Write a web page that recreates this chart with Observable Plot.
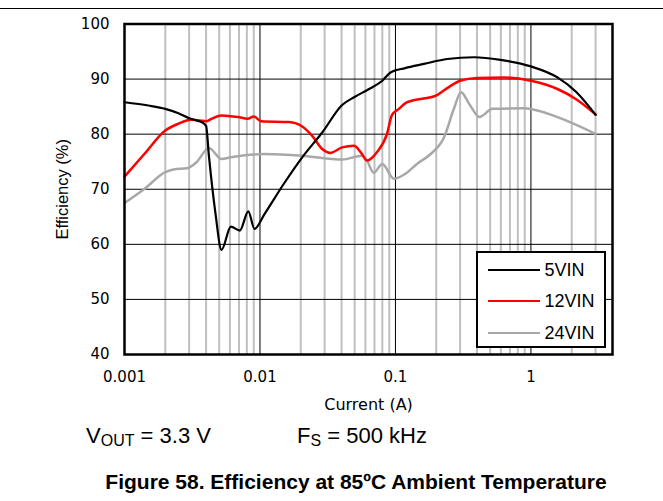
<!DOCTYPE html>
<html>
<head>
<meta charset="utf-8">
<script src="https://cdn.jsdelivr.net/npm/d3@7"></script>
<script src="https://cdn.jsdelivr.net/npm/@observablehq/plot@0.6"></script>
<style>
  html, body { margin: 0; padding: 0; background: #fff; }
  #wrap { position: relative; width: 663px; height: 501px; overflow: hidden; font-family: "Liberation Sans", Arial, sans-serif; color: #000; }
  #chart { position: absolute; left: 0; top: 0; }
  #rule { position: absolute; left: 0; top: 7.5px; width: 663px; height: 1.8px; background: #000; }
  .note { position: absolute; font-size: 22px; line-height: 22px; white-space: nowrap; }
  .note sub { font-size: 16px; vertical-align: -3px; line-height: 0; }
  #caption { position: absolute; left: 0; width: 712px; text-align: center; top: 471px; font-size: 21px; line-height: 21px; font-weight: bold; white-space: nowrap; }
  #legend { position: absolute; left: 475.5px; top: 250.5px; width: 130px; height: 97.5px; box-sizing: border-box; border: 2.2px solid #000; background: #fff; }
  .lg { position: absolute; left: 10px; height: 20px; }
  .lg .sw { position: absolute; left: 0; top: 9px; width: 52px; }
  .lg .tx { position: absolute; left: 57px; top: -1px; font-size: 18px; line-height: 22px; white-space: nowrap; }
</style>
</head>
<body>
<div id="wrap">
  <div id="rule"></div>
  <div id="chart"></div>
  <div id="legend"></div>
  <div class="note" style="left:86px; top:425px;">V<sub>OUT</sub> = 3.3 V</div>
  <div class="note" style="left:297px; top:425px;">F<sub>S</sub> = 500 kHz</div>
  <div id="caption">Figure 58. Efficiency at 85ºC Ambient Temperature</div>
</div>
<script>
// ---- data ----
const seriesNames = ["5VIN", "12VIN", "24VIN"];
const seriesColors = ["#000000", "#ff0000", "#a8a8a8"];

const current5 = [0.001, 0.0015, 0.002, 0.0025, 0.003, 0.0034, 0.0037, 0.004, 0.0042, 0.0047, 0.0052, 0.0061, 0.0071, 0.0082, 0.0091, 0.0108, 0.015, 0.0205, 0.0288, 0.0404, 0.0495, 0.0638, 0.080, 0.092, 0.118, 0.162, 0.241, 0.38, 0.595, 1.0, 1.57, 2.17, 3.0];
const eff5 = [85.8, 85.2, 84.6, 83.8, 82.9, 82.5, 82.2, 81.5, 76.0, 65.5, 59.0, 63.2, 62.5, 66.0, 62.8, 65.5, 71.0, 75.8, 80.3, 85.3, 86.7, 88.2, 89.7, 91.2, 92.0, 92.75, 93.65, 93.96, 93.5, 92.3, 90.3, 87.6, 83.5];

const current12 = [0.001, 0.0014, 0.002, 0.0025, 0.0031, 0.0036, 0.004, 0.0044, 0.0052, 0.0069, 0.0081, 0.009, 0.0102, 0.0164, 0.0205, 0.0243, 0.0288, 0.033, 0.0404, 0.0495, 0.0555, 0.0617, 0.0729, 0.0866, 0.094, 0.106, 0.122, 0.203, 0.246, 0.3, 0.4, 0.63, 1.0, 1.57, 2.17, 3.0];
const eff12 = [72.3, 76.4, 80.65, 81.9, 82.6, 82.5, 82.35, 82.8, 83.4, 83.1, 82.8, 83.2, 82.35, 82.2, 81.4, 79.7, 77.3, 76.6, 77.6, 77.9, 76.7, 75.2, 76.7, 80.05, 83.4, 84.6, 85.8, 87.1, 88.5, 89.7, 90.2, 90.3, 89.7, 88.2, 86.3, 83.6];

const current24 = [0.001, 0.0014, 0.002, 0.0023, 0.0029, 0.0034, 0.0042, 0.0052, 0.0061, 0.0108, 0.0205, 0.0404, 0.057, 0.0617, 0.069, 0.080, 0.0974, 0.118, 0.144, 0.182, 0.228, 0.27, 0.305, 0.35, 0.417, 0.52, 0.89, 1.57, 3.0];
const eff24 = [67.5, 70.05, 73.1, 73.6, 73.8, 74.9, 77.5, 75.5, 75.8, 76.4, 76.1, 75.4, 76.1, 75.2, 73.0, 74.6, 71.9, 72.8, 74.6, 76.4, 79.4, 84.6, 87.6, 85.5, 83.1, 84.6, 84.7, 83.1, 80.05];

const xTicks = [0.001, 0.01, 0.1, 1];
const xTickLabels = ["0.001", "0.01", "0.1", "1"];
const yTicks = [40, 50, 60, 70, 80, 90, 100];
const xMajorGrid = [0.01, 0.1, 1];
const xMinorGrid = [0.002, 0.003, 0.004, 0.005, 0.006, 0.007, 0.008, 0.009,
                    0.02, 0.03, 0.04, 0.05, 0.06, 0.07, 0.08, 0.09,
                    0.2, 0.3, 0.4, 0.5, 0.6, 0.7, 0.8, 0.9, 2, 3];
const yGrid = [50, 60, 70, 80, 90];
const xLabel = "Current (A)";
const yLabel = "Efficiency (%)";

// ---- build table ----
const rows = [];
[[current5, eff5], [current12, eff12], [current24, eff24]].forEach(([cs, es], k) => {
  cs.forEach((c, i) => rows.push({series: seriesNames[k], current: c, eff: es[i]}));
});

const chart = Plot.plot({
  width: 663,
  height: 420,
  marginLeft: 124,
  marginRight: 51,
  marginTop: 23.5,
  marginBottom: 66,
  style: {fontFamily: "DejaVu Sans, sans-serif", fontSize: "15px", background: "transparent", color: "#000"},
  x: {type: "log", domain: [0.001, 4], ticks: xTicks, tickFormat: d => xTickLabels[xTicks.indexOf(d)], tickSize: 0, tickPadding: 17, label: null},
  y: {domain: [40, 100], ticks: yTicks, tickSize: 0, tickPadding: 15, label: null},
  color: {domain: seriesNames, range: seriesColors},
  marks: [
    Plot.ruleX(xMinorGrid, {stroke: "#c0c0c0", strokeWidth: 2}),
    Plot.ruleY(yGrid, {stroke: "#000", strokeWidth: 1}),
    Plot.ruleX(xMajorGrid, {stroke: "#000", strokeWidth: 1}),
    Plot.line(rows.filter(d => d.series === "24VIN"), {x: "current", y: "eff", stroke: "series", strokeWidth: 2.5, curve: "monotone-x"}),
    Plot.line(rows.filter(d => d.series === "12VIN"), {x: "current", y: "eff", stroke: "series", strokeWidth: 2.5, curve: "monotone-x"}),
    Plot.line(rows.filter(d => d.series === "5VIN"), {x: "current", y: "eff", stroke: "series", strokeWidth: 2.2, curve: "monotone-x"}),
    Plot.frame({stroke: "#000", strokeWidth: 2.5}),
    Plot.text([xLabel], {frameAnchor: "bottom", dy: 55, fontSize: 16, fill: "#000"}),
    Plot.text([yLabel], {frameAnchor: "left", textAnchor: "middle", dx: -62, rotate: -90, fontSize: 16.5, fill: "#000", fontFamily: "Liberation Sans, Arial, sans-serif"})
  ]
});
document.getElementById("chart").appendChild(chart);

// ---- legend ----
const legend = document.getElementById("legend");
const legendTops = [7, 38, 70];
const legendWidths = [2.2, 2.5, 2.8];
seriesNames.forEach((name, i) => {
  const row = document.createElement("div");
  row.className = "lg";
  row.style.top = legendTops[i] + "px";
  const sw = document.createElement("div");
  sw.className = "sw";
  sw.style.height = legendWidths[i] + "px";
  sw.style.background = seriesColors[i];
  const tx = document.createElement("div");
  tx.className = "tx";
  tx.textContent = name;
  row.appendChild(sw);
  row.appendChild(tx);
  legend.appendChild(row);
});
</script>
</body>
</html>
